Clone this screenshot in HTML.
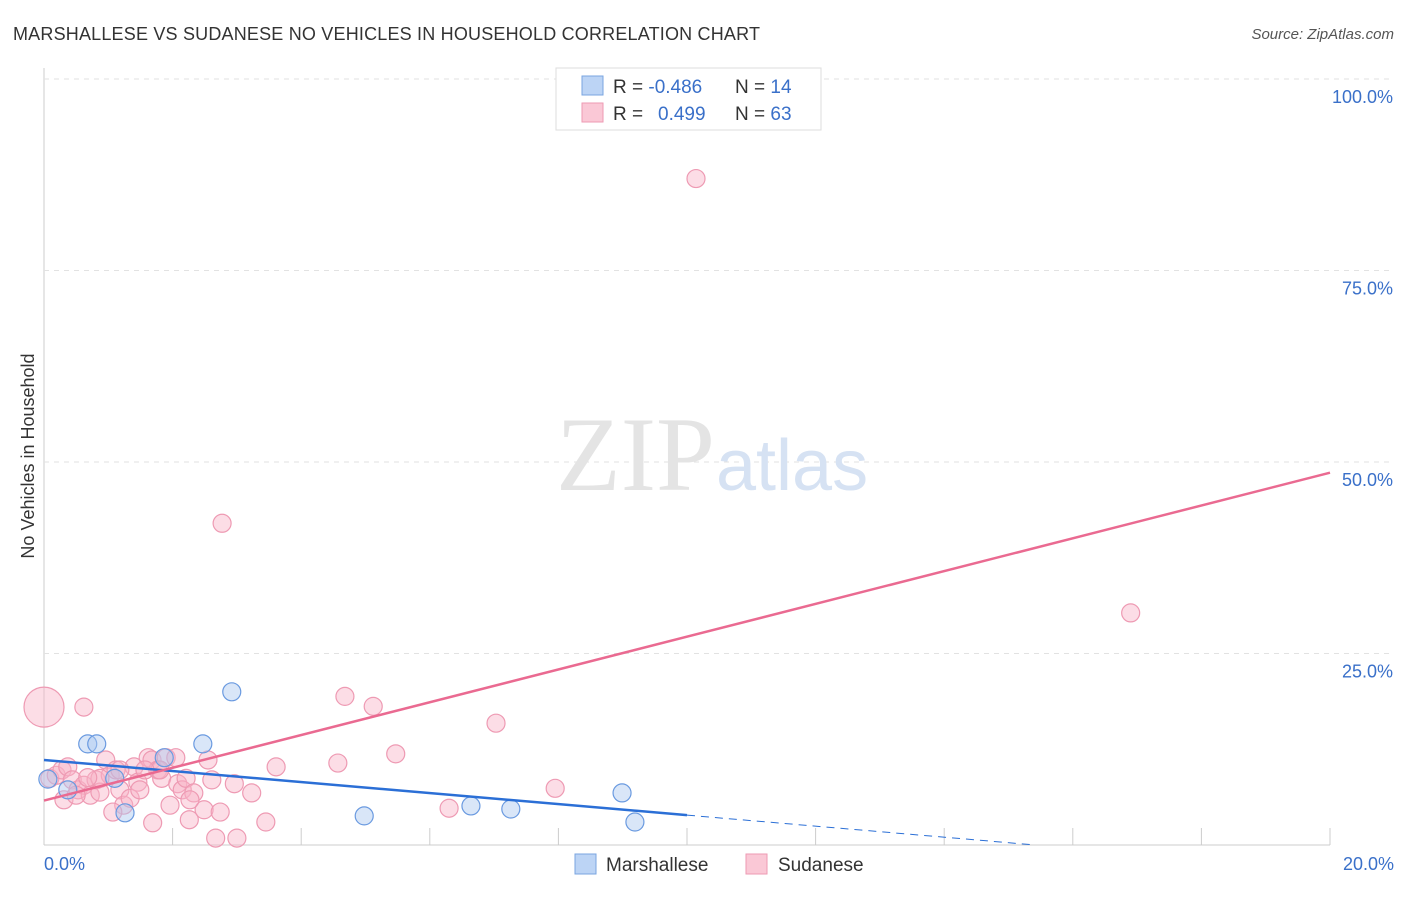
<!DOCTYPE html>
<html><head><meta charset="utf-8"><style>
body{margin:0;background:#fff;font-family:"Liberation Sans",sans-serif;}
</style></head><body>
<svg width="1406" height="892" xmlns="http://www.w3.org/2000/svg">
<text x="13" y="40" font-size="18" fill="#333" textLength="747">MARSHALLESE VS SUDANESE NO VEHICLES IN HOUSEHOLD CORRELATION CHART</text>
<text x="1394" y="39" font-size="15" fill="#555" font-style="italic" text-anchor="end">Source: ZipAtlas.com</text>
<g id="grid"></g>
<text x="715" y="490" font-size="106" font-family="Liberation Serif" fill="#e4e4e4" text-anchor="end">ZIP</text>
<text x="716" y="490" font-size="72" fill="#d6e2f3">atlas</text>
<g id="pts"></g>
<g id="lines"></g>
<text transform="translate(34,456) rotate(-90)" font-size="18" fill="#333" text-anchor="middle">No Vehicles in Household</text>
<text x="44" y="870" font-size="18" fill="#3a70c9">0.0%</text>
<text x="1394" y="870" font-size="18" fill="#3a70c9" text-anchor="end">20.0%</text>
<g>
<rect x="556" y="68" width="265" height="62" fill="#fff" stroke="#ddd"/>
<rect x="582" y="76" width="21" height="19" fill="#bcd4f5" stroke="#7aa5e0"/>
<rect x="582" y="103" width="21" height="19" fill="#fac8d6" stroke="#ee9ab3"/>
<text x="613" y="93" font-size="19" fill="#333">R = <tspan fill="#3a70c9">-0.486</tspan><tspan x="735">N = </tspan><tspan fill="#3a70c9">14</tspan></text>
<text x="613" y="120" font-size="19" fill="#333">R = <tspan x="658" fill="#3a70c9">0.499</tspan><tspan x="735">N = </tspan><tspan fill="#3a70c9">63</tspan></text>
</g>
<g>
<rect x="575" y="854" width="21" height="20" fill="#bcd4f5" stroke="#7aa5e0"/>
<text x="606" y="871" font-size="19" fill="#333">Marshallese</text>
<rect x="746" y="854" width="21" height="20" fill="#fac8d6" stroke="#ee9ab3"/>
<text x="778" y="871" font-size="19" fill="#333">Sudanese</text>
</g>
</svg>
<script>
const yTicks=[25,50,75,100];
const xTickVals=[2,4,6,8,10,12,14,16,18,20];
const blueX=[0.06,0.37,0.68,0.82,1.1,1.26,1.87,2.47,2.92,4.98,6.64,7.26,8.99,9.19];
const blueY=[8.6,7.2,13.2,13.2,8.7,4.2,11.4,13.2,20.0,3.8,5.1,4.7,6.8,3.0];
const pinkX=[0,0.62,2.77,10.14,16.9,4.68,5.12,7.03,5.47,4.57,3.61,7.95,6.3,0.09,0.19,0.28,0.37,0.44,0.53,0.62,0.72,0.81,0.87,0.96,1.03,1.12,1.18,1.24,1.34,1.4,1.46,1.49,1.62,1.68,1.77,1.83,1.9,1.96,2.05,2.08,2.15,2.21,2.26,2.33,2.49,2.55,2.61,2.67,2.74,2.96,3.0,3.23,3.45,1.69,1.07,1.8,0.87,0.31,0.5,0.68,1.18,1.57,2.27];
const pinkY=[18,18,42,87,30.3,19.4,18.1,15.9,11.9,10.7,10.2,7.4,4.8,8.7,9.1,9.8,10.2,8.5,7.2,7.8,6.5,8.5,6.9,11.1,9.1,9.8,7.2,5.2,6.1,10.2,8.2,7.2,11.4,11.1,9.8,8.7,11.4,5.2,11.4,8.0,7.2,8.7,3.3,6.8,4.6,11.1,8.5,0.9,4.3,8.0,0.9,6.8,3.0,2.9,4.3,9.8,8.7,5.9,6.5,8.8,9.8,9.8,5.9];
const pinkR=[20];
const X=v=>44+v/20*1286, Y=v=>845-v*7.66;
const NS="http://www.w3.org/2000/svg";
function mk(t,a,p){const e=document.createElementNS(NS,t);for(const k in a)e.setAttribute(k,a[k]);p.appendChild(e);return e;}
const g=document.getElementById('grid');
mk('line',{x1:44,y1:68,x2:44,y2:845,stroke:'#ccc'},g);
mk('line',{x1:44,y1:845,x2:1330,y2:845,stroke:'#ccc'},g);
yTicks.forEach(v=>{
 const l=mk('line',{x1:44,y1:Y(v),x2:1394,y2:Y(v),stroke:'#e2e2e2','stroke-dasharray':'5,5'},g);
 
 
 const t=mk('text',{x:1393,y:Y(v)+24,'font-size':18,fill:'#3a70c9','text-anchor':'end'},g);
 t.textContent=v.toFixed(1)+'%';
 
 
});
xTickVals.forEach(v=>{
 const l=mk('line',{x1:X(v),y1:828,x2:X(v),y2:845,stroke:'#ccc'},g);
 
 
});
const p=document.getElementById('pts');
pinkX.forEach((x,i)=>{
 const c=mk('circle',{cx:X(x),cy:Y(pinkY[i]),r:i===0?pinkR[0]:9,fill:'rgba(248,180,200,0.45)',stroke:'#ee9ab3','stroke-width':1.2},p);
 
 
});
blueX.forEach((x,i)=>{
 const c=mk('circle',{cx:X(x),cy:Y(blueY[i]),r:9,fill:'rgba(170,200,240,0.45)',stroke:'#6a9ae0','stroke-width':1.2},p);
 
 
});
const L=document.getElementById('lines');
const bl=v=>11.1-0.72*v, pl=v=>5.8+2.14*v;
let e=mk('line',{x1:X(0),y1:Y(bl(0)),x2:X(10),y2:Y(bl(10)),stroke:'#2b6fd6','stroke-width':2.5},L);


e=mk('line',{x1:X(10),y1:Y(bl(10)),x2:X(15.4),y2:Y(bl(15.4)),stroke:'#2b6fd6','stroke-width':1,'stroke-dasharray':'8,6'},L);


e=mk('line',{x1:X(0),y1:Y(pl(0)),x2:X(20),y2:Y(pl(20)),stroke:'#ea6a91','stroke-width':2.5},L);


</script>
</body></html>
